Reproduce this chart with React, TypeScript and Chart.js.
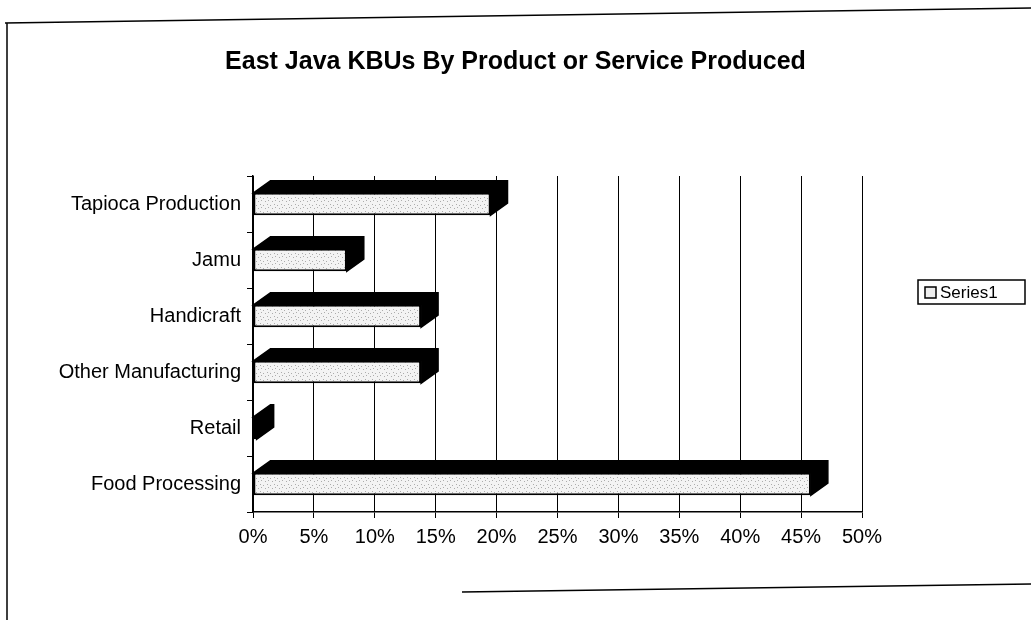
import React, { useEffect, useRef } from "react";
import { Chart, registerables } from "chart.js";

Chart.register(...registerables);

const TITLE = "East Java KBUs By Product or Service Produced";
const categories = [
  "Tapioca Production",
  "Jamu",
  "Handicraft",
  "Other Manufacturing",
  "Retail",
  "Food Processing",
];
const seriesName = "Series1";
const series1 = [19.5, 7.7, 13.8, 13.8, 0.3, 45.8];
const xTicksMin = 0;
const xTicksMax = 50;
const xTicksStep = 5;

const FONT = "'Liberation Sans', Arial, Helvetica, sans-serif";

function makePattern(ctx: CanvasRenderingContext2D) {
  const c = document.createElement("canvas");
  c.width = 7;
  c.height = 7;
  const p = c.getContext("2d")!;
  p.fillStyle = "#f3f3f3";
  p.fillRect(0, 0, 7, 7);
  p.fillStyle = "#acacac";
  const dots = [
    [1, 1],
    [4, 2],
    [2, 4],
    [6, 5],
  ];
  dots.forEach(([x, y]) => p.fillRect(x, y, 1, 1));
  return ctx.createPattern(c, "repeat") || "#e6e6e6";
}

const framePlugin = {
  id: "frame",
  beforeDraw(chart: any) {
    const ctx = chart.ctx;
    ctx.save();
    ctx.fillStyle = "#ffffff";
    ctx.fillRect(0, 0, chart.width, chart.height);
    ctx.strokeStyle = "#000";
    ctx.lineWidth = 1.5;
    ctx.beginPath();
    ctx.moveTo(5, 23);
    ctx.lineTo(1031, 8);
    ctx.moveTo(7, 23);
    ctx.lineTo(7, 620);
    ctx.moveTo(462, 592);
    ctx.lineTo(1031, 584);
    ctx.stroke();
    ctx.restore();
  },
};

const bar3dPlugin = {
  id: "bar3d",
  afterDatasetsDraw(chart: any) {
    const ctx = chart.ctx;
    const dx = 17;
    const dy = 12;
    chart.getSortedVisibleDatasetMetas().forEach((meta: any) => {
      meta.data.forEach((el: any) => {
        const p = el.getProps(["x", "y", "base", "height"], true);
        const top = p.y - p.height / 2;
        const bottom = p.y + p.height / 2;
        const l = p.base;
        const r = p.x;
        ctx.save();
        ctx.fillStyle = "#000";
        ctx.strokeStyle = "#000";
        ctx.lineWidth = 1.5;
        ctx.beginPath();
        ctx.moveTo(l, top);
        ctx.lineTo(l + dx, top - dy);
        ctx.lineTo(r + dx, top - dy);
        ctx.lineTo(r + dx, bottom - dy);
        ctx.lineTo(r, bottom);
        ctx.lineTo(r, top);
        ctx.closePath();
        ctx.fill();
        ctx.stroke();
        ctx.restore();
      });
    });
  },
};

const legendPlugin = {
  id: "boxLegend",
  afterDraw(chart: any) {
    const ctx = chart.ctx;
    const x = 918;
    const y = 280;
    const w = 107;
    const h = 24;
    ctx.save();
    ctx.strokeStyle = "#000";
    ctx.lineWidth = 1.5;
    ctx.strokeRect(x, y, w, h);
    ctx.fillStyle = "#eeeeee";
    ctx.fillRect(x + 7, y + 7, 11, 11);
    ctx.strokeRect(x + 7, y + 7, 11, 11);
    ctx.fillStyle = "#000";
    ctx.font = `17px ${FONT}`;
    ctx.textBaseline = "middle";
    ctx.textAlign = "left";
    ctx.fillText(chart.data.datasets[0].label, x + 22, y + h / 2 + 1);
    ctx.restore();
  },
};

export default function App() {
  const ref = useRef<HTMLCanvasElement>(null);

  useEffect(() => {
    document.body.style.margin = "0";
    const canvas = ref.current!;
    const ctx = canvas.getContext("2d")!;
    const pattern = makePattern(ctx);
    const chart = new Chart(canvas, {
      type: "bar",
      data: {
        labels: categories,
        datasets: [
          {
            label: seriesName,
            data: series1,
            backgroundColor: pattern as any,
            borderColor: "#000",
            borderWidth: 2,
            borderSkipped: false,
            categoryPercentage: 1,
            barPercentage: 0.4,
          },
        ],
      },
      options: {
        indexAxis: "y",
        animation: false,
        responsive: false,
        maintainAspectRatio: false,
        layout: { padding: { left: 8, right: 8, top: 0, bottom: 68 } },
        plugins: {
          legend: { display: false },
          tooltip: { enabled: false },
          title: {
            display: true,
            text: TITLE,
            color: "#000",
            font: { family: FONT, size: 25, weight: "bold" },
            padding: { top: 47, bottom: 99 },
          },
        },
        scales: {
          x: {
            min: xTicksMin,
            max: xTicksMax,
            afterFit: (s: any) => {
              s.height = 40;
            },
            ticks: {
              stepSize: xTicksStep,
              color: "#000",
              font: { family: FONT, size: 20 },
              padding: 7,
              maxRotation: 0,
              callback: (v: any) => `${v}%`,
            },
            grid: {
              color: "#000",
              lineWidth: 1,
              tickLength: 6,
              drawOnChartArea: true,
            },
            border: { display: true, color: "#000", width: 1.5 },
          },
          y: {
            afterFit: (s: any) => {
              s.width = 245;
            },
            ticks: {
              color: "#000",
              font: { family: FONT, size: 20 },
              padding: 6,
            },
            grid: {
              offset: true,
              drawOnChartArea: false,
              color: "#000",
              tickLength: 6,
            },
            border: { display: true, color: "#000", width: 1.5 },
          },
          yRight: {
            type: "category",
            position: "right",
            display: true,
            afterFit: (s: any) => {
              s.width = 161;
            },
            ticks: { display: false },
            grid: { display: false },
            border: { display: false },
          },
        },
      },
      plugins: [framePlugin, bar3dPlugin, legendPlugin],
    });
    return () => chart.destroy();
  }, []);

  return (
    <div style={{ position: "fixed", left: 0, top: 0, width: 1031, height: 620, background: "#fff" }}>
      <canvas ref={ref} width={1031} height={620} style={{ width: 1031, height: 620 }} />
    </div>
  );
}
